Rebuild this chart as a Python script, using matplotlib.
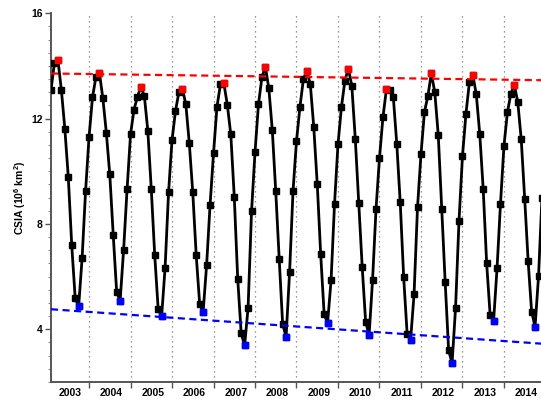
import numpy as np
import matplotlib.pyplot as plt

plt.rcParams['font.family'] = ['Liberation Sans', 'DejaVu Sans']
plt.rcParams['mathtext.fontset'] = 'custom'
plt.rcParams['mathtext.rm'] = 'Liberation Sans'
plt.rcParams['mathtext.bf'] = 'Liberation Sans:bold'

years = list(range(2003, 2015))

# monthly sea ice area, Jan..Dec per row (10^6 km^2)
csia = [
    13.09, 14.12, 14.23, 13.09, 11.62, 9.78, 7.19, 5.18, 4.87, 6.71, 9.25, 11.30,  # 2003
    12.81, 13.59, 13.74, 12.77, 11.47, 9.88, 7.58, 5.40, 5.09, 7.02, 9.31, 11.40,  # 2004
    12.34, 12.83, 13.21, 12.86, 11.54, 9.33, 6.81, 4.76, 4.50, 6.34, 9.20, 11.18,  # 2005
    12.29, 13.01, 13.14, 12.54, 11.06, 9.20, 6.81, 4.95, 4.66, 6.43, 8.71, 10.68,  # 2006
    12.45, 13.30, 13.34, 12.52, 11.40, 9.04, 5.92, 3.85, 3.39, 4.82, 8.48, 10.72,  # 2007
    12.54, 13.57, 13.97, 13.15, 11.57, 9.24, 6.67, 4.19, 3.72, 6.17, 9.25, 11.15,  # 2008
    12.45, 13.50, 13.81, 13.30, 11.67, 9.52, 6.85, 4.57, 4.25, 5.86, 8.76, 11.02,  # 2009
    12.44, 13.44, 13.90, 13.25, 11.24, 8.81, 6.38, 4.28, 3.77, 5.87, 8.56, 10.50,  # 2010
    12.05, 13.11, 13.09, 12.82, 11.05, 8.82, 5.97, 3.83, 3.59, 5.33, 8.63, 10.64,  # 2011
    12.25, 12.86, 13.72, 13.00, 11.38, 8.58, 5.80, 3.20, 2.72, 4.80, 8.12, 10.57,  # 2012
    12.17, 13.38, 13.66, 12.92, 11.42, 9.33, 6.50, 4.55, 4.31, 6.31, 8.77, 10.96,  # 2013
    12.24, 12.95, 13.28, 12.63, 11.21, 8.96, 6.58, 4.67, 4.10, 6.01, 9.00,         # 2014
]

v = np.array(csia)
t = np.arange(1, len(v) + 1)   # month index, Jan 2003 = 1

# annual maximum / minimum
imax, imin = [], []
for k in range(len(years)):
    seg = v[k * 12:(k + 1) * 12]
    imax.append(k * 12 + int(np.argmax(seg)))
    imin.append(k * 12 + int(np.argmin(seg)))
imax = np.array(imax)
imin = np.array(imin)

# linear trends of the extremes
xx = np.array([1.0, 145.0])
pmax = np.polyfit(t[imax], v[imax], 1)
pmin = np.polyfit(t[imin], v[imin], 1)

fig = plt.figure(figsize=(5.41, 4.0), dpi=100)
ax = fig.add_axes([51 / 541, 18 / 400, 497.9 / 541, 368.7 / 400])

bounds = np.arange(12, 145, 12)
for b in bounds:
    ax.axvline(b, color='#777777', lw=0.9, dashes=(1, 3), zorder=1)

ax.plot(t, v, color='black', lw=2, marker='s', ms=3.8, zorder=3)
ax.plot(xx, np.polyval(pmax, xx), color='red', lw=1.6, dashes=(3.2, 2), zorder=4)
ax.plot(xx, np.polyval(pmin, xx), color='blue', lw=1.6, dashes=(3.2, 2), zorder=4)
ax.plot(t[imax], v[imax], ls='none', marker='s', ms=4.5, color='red', zorder=5)
ax.plot(t[imin], v[imin], ls='none', marker='s', ms=4.5, color='blue', zorder=5)

ax.set_xlim(1, 145)
ax.set_ylim(2, 16)

for s in ['top', 'right']:
    ax.spines[s].set_visible(False)
for s in ['left', 'bottom']:
    ax.spines[s].set_color('#555555')
    ax.spines[s].set_linewidth(1.4)

ax.set_yticks([4, 8, 12, 16])
ax.set_yticks(np.arange(2, 16.01, 0.5), minor=True)
ax.tick_params(axis='y', which='major', length=4, width=1, color='#555555',
               labelsize=7.5, pad=2)
ax.tick_params(axis='y', which='minor', length=2, width=0.6, color='#777777')
for lab in ax.get_yticklabels():
    lab.set_fontweight('bold')

ax.set_xticks(bounds)
ax.set_xticklabels([])
ax.set_xticks(np.arange(6.5, 145, 12), minor=True)
ax.set_xticklabels([str(y) for y in years], minor=True, fontweight='bold')
ax.tick_params(axis='x', which='major', length=4, width=1, color='#555555')
ax.tick_params(axis='x', which='minor', length=0, labelsize=7.5, pad=4)

ax.set_ylabel(r'CSIA (10$^{\mathbf{6}}$ km$^{\mathbf{2}}$)', fontsize=7.5,
              fontweight='bold')
ax.yaxis.set_label_coords(-0.047, 0.5)

fig.savefig('out.png', dpi=100)
